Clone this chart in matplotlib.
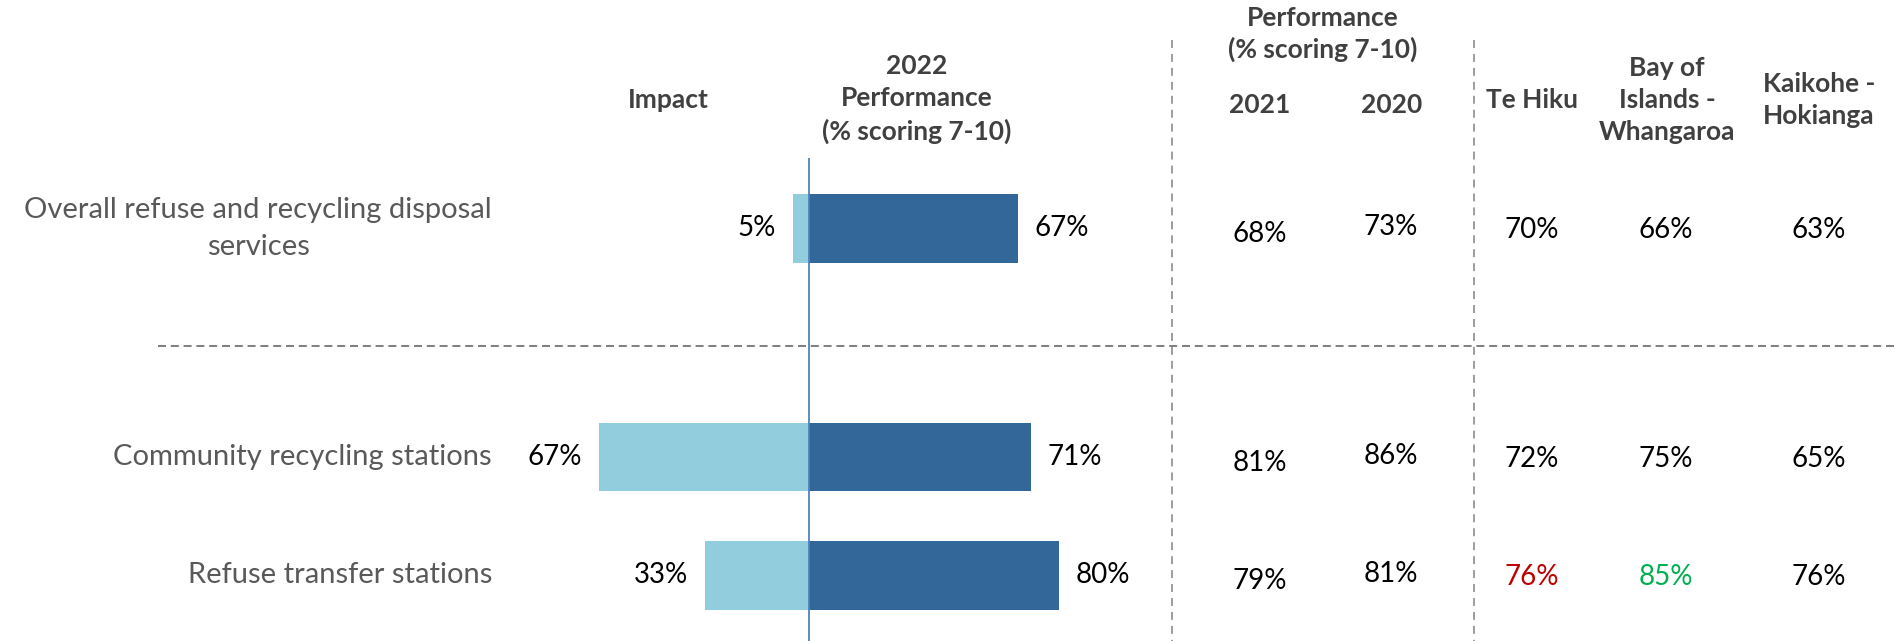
import matplotlib
matplotlib.use("Agg")
import matplotlib.pyplot as plt

# ---------------- data ----------------
categories = ["Overall refuse and recycling disposal\nservices",
              "Community recycling stations",
              "Refuse transfer stations"]
impact = [5, 67, 33]
perf_2022 = [67, 71, 80]
perf_2021 = [68, 81, 79]
perf_2020 = [73, 86, 81]
te_hiku = [70, 72, 76]
bay_of_islands = [66, 75, 85]
kaikohe = [63, 65, 76]
# significance colouring of ward cells
te_hiku_col = ["black", "black", "#C00000"]
bay_col = ["black", "black", "#00B050"]
kaikohe_col = ["black", "black", "black"]

# ---------------- layout ----------------
W, H = 1895, 641
FONT = ["Lato", "DejaVu Sans"]
plt.rcParams["font.family"] = FONT

fig = plt.figure(figsize=(W / 100, H / 100), dpi=100)
ax = fig.add_axes([0, 0, 1, 1])
ax.set_axis_off()

X0 = 808.5      # pixel of zero line
PXPCT = 3.134   # pixels per percentage point
ROW0 = 228.4    # pixel centre of first row
STEP = 118.4    # pixels per row unit
ax.set_xlim(-X0 / PXPCT, (W - X0) / PXPCT)
ax.set_ylim((H - ROW0) / STEP, -ROW0 / STEP)

def px(x):
    return (x - X0) / PXPCT

def py(y):
    return (y - ROW0) / STEP

y_pos = [0, 1.93, 2.93]
bar_h = 0.58

ax.barh(y_pos, [-v for v in impact], height=bar_h, color="#92CDDD",
        edgecolor="none", zorder=2)
ax.barh(y_pos, perf_2022, height=bar_h, color="#336699",
        edgecolor="none", zorder=2)

# zero axis line
ax.plot([0, 0], [py(158), py(641)], color="#4F81BD", lw=1.3, zorder=3,
        solid_capstyle="butt")

# dashed separators
ax.plot([px(158), px(W)], [py(345.6)] * 2, color="#808080", lw=1.44,
        dashes=(4, 2.4), zorder=1)
for xv in (1172, 1474):
    ax.plot([px(xv)] * 2, [py(40), py(H)], color="#808080", lw=1.08,
            dashes=(5.3, 4), zorder=1)

VAL_FS = 20
# bar value labels
for y, v in zip(y_pos, impact):
    ax.annotate(f"{v}%", xy=(-v, y), xytext=(-17, 0), textcoords="offset pixels",
                ha="right", va="center", fontsize=VAL_FS, color="black")
for y, v in zip(y_pos, perf_2022):
    ax.annotate(f"{v}%", xy=(v, y), xytext=(16, 0), textcoords="offset pixels",
                ha="left", va="center", fontsize=VAL_FS, color="black")

# category labels
for y, c in zip(y_pos, categories):
    ax.text(px(492), y, c, ha="right", va="center", multialignment="center",
            fontsize=21, color="#595959", linespacing=1.5)

# table columns
cols = [
    (1260, perf_2021, ["black"] * 3, 6),
    (1391, perf_2020, ["black"] * 3, -1),
    (1532, te_hiku, te_hiku_col, 2),
    (1666, bay_of_islands, bay_col, 2),
    (1819, kaikohe, kaikohe_col, 2),
]
for xc, vals, colors, dy in cols:
    for y, v, c in zip(y_pos, vals, colors):
        ax.annotate(f"{v}%", xy=(px(xc), y), xytext=(0, -dy),
                    textcoords="offset pixels", ha="center", va="center",
                    fontsize=VAL_FS, color=c)

# headers
HFS = 19
HCOL = "#404040"
def header(x, y, s, ls=1.42):
    ax.text(px(x), py(y), s, ha="center", va="center", fontsize=HFS,
            fontweight="bold", color=HCOL, linespacing=ls,
            multialignment="center")

header(668, 100, "Impact")
header(917, 99, "2022\nPerformance\n(% scoring 7-10)")
header(1323, 34, "Performance\n(% scoring 7-10)", ls=1.36)
header(1260, 105, "2021")
header(1392, 105, "2020")
header(1532, 100, "Te Hiku")
header(1667, 100, "Bay of\nIslands -\nWhangaroa")
header(1819, 100, "Kaikohe -\nHokianga")

fig.savefig("out.png", dpi=100)
